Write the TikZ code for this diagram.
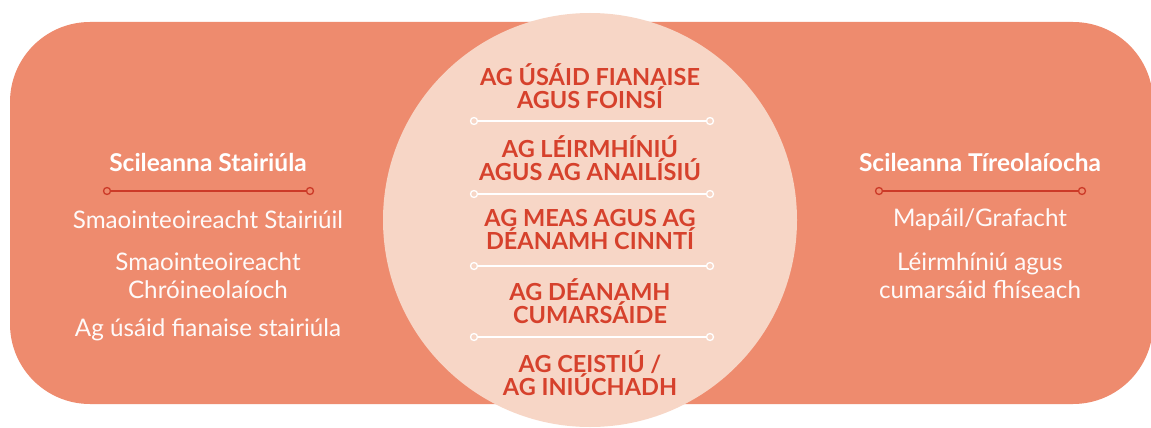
\documentclass[tikz,border=0pt]{standalone}
\usepackage{fontspec}
\setmainfont{Lato}
\definecolor{boxfill}{HTML}{EE8B6E}
\definecolor{circfill}{HTML}{F7D6C6}
\definecolor{redtext}{HTML}{D6412C}
\definecolor{redline}{HTML}{CC3A28}
\tikzset{
  sidehead/.style={text=white, font=\bfseries\fontsize{24.5}{28}\selectfont, align=center},
  sideitem/.style={text=white!96!boxfill, font=\fontsize{24.2}{28}\selectfont, align=center},
  centeritem/.style={text=redtext, font=\bfseries\fontsize{23.5}{23}\selectfont, align=center},
  redrule/.style={draw=redline, line width=1.6pt},
  whiterule/.style={draw=white, line width=1.6pt},
  enddot/.style={circle, inner sep=0pt, minimum size=7pt, line width=1.3pt}
}
\begin{document}
\begin{tikzpicture}[x=1pt,y=-1pt]
\useasboundingbox (0,0) rectangle (1151,428);
\clip (0,0) rectangle (1151,428);
\fill[white] (0,0) rectangle (1151,428);
\fill[boxfill, rounded corners=80pt] (10,22) rectangle (1153,404);
\fill[circfill] (590,220) circle (207);

% left column
\node[sidehead] (lh) at (208,162) {Scileanna Stairiúla};
\node[enddot, draw=redline, fill=boxfill] (la) at (107,191) {};
\node[enddot, draw=redline, fill=boxfill] (lb) at (310,191) {};
\draw[redrule] (la) -- (lb);
\node[sideitem] (l1) at (208,220) {Smaointeoireacht Stairiúil};
\node[sideitem] (l2) at (208,276) {Smaointeoireacht\\Chróineolaíoch};
\node[sideitem] (l3) at (208,330) {Ag úsáid fianaise stairiúla};

% right column
\node[sidehead] (rh) at (980,162) {Scileanna Tíreolaíocha};
\node[enddot, draw=redline, fill=boxfill] (ra) at (879,191) {};
\node[enddot, draw=redline, fill=boxfill] (rb) at (1082,191) {};
\draw[redrule] (ra) -- (rb);
\node[sideitem] (r1) at (980,220) {Mapáil/Grafacht};
\node[sideitem] (r2) at (980,276) {Léirmhíniú agus\\cumarsáid fhíseach};

% centre
\node[centeritem] (c1) at (590,86.5) {AG ÚSÁID FIANAISE\\AGUS FOINSÍ};
\node[centeritem] (c2) at (590,158.5) {AG LÉIRMHÍNIÚ\\AGUS AG ANAILÍSIÚ};
\node[centeritem] (c3) at (590,230) {AG MEAS AGUS AG\\DÉANAMH CINNTÍ};
\node[centeritem] (c4) at (590,301.5) {AG DÉANAMH\\CUMARSÁIDE};
\node[centeritem] (c5) at (590,373.5) {AG CEISTIÚ /\\AG INIÚCHADH};

\foreach \n/\yy in {1/121,2/194,3/266,4/337}{
  \node[enddot, draw=white, fill=circfill] (wa\n) at (474,\yy) {};
  \node[enddot, draw=white, fill=circfill] (wb\n) at (710,\yy) {};
  \draw[whiterule] (wa\n) -- (wb\n);
}
\end{tikzpicture}
\end{document}
